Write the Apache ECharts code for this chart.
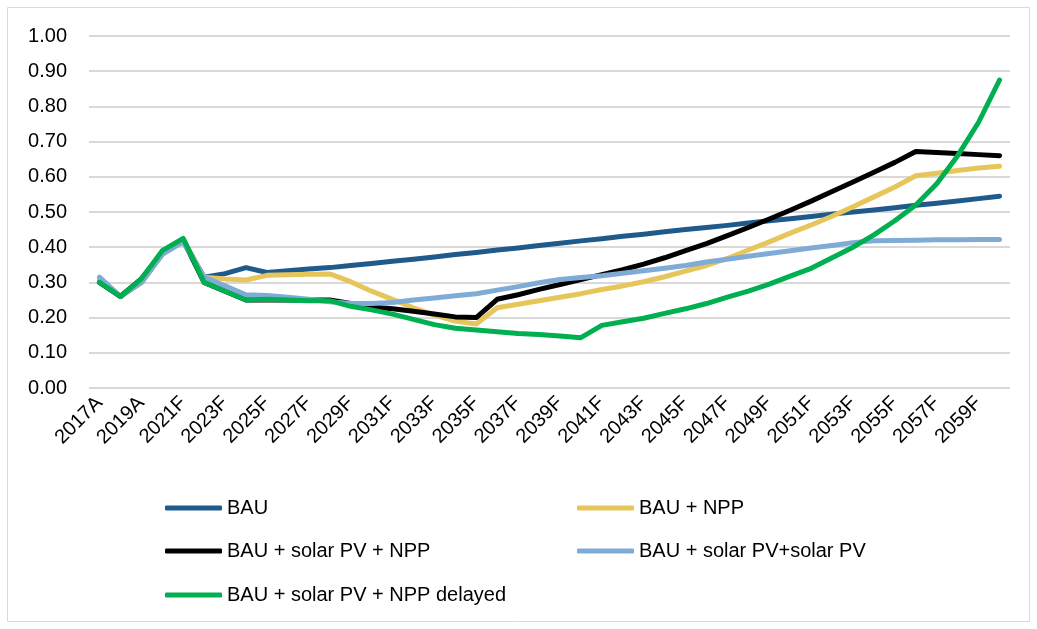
<!DOCTYPE html>
<html>
<head>
<meta charset="utf-8">
<script src="https://cdn.jsdelivr.net/npm/echarts@6/dist/echarts.min.js"></script>
<style>
  html, body { margin: 0; padding: 0; background: #fff; }
  #chart { width: 1037px; height: 629px; }
</style>
</head>
<body>
<div id="chart"></div>
<script>
const categories = ['2017A','2018A','2019A','2020A','2021F','2022F','2023F','2024F','2025F','2026F','2027F','2028F','2029F','2030F','2031F','2032F','2033F','2034F','2035F','2036F','2037F','2038F','2039F','2040F','2041F','2042F','2043F','2044F','2045F','2046F','2047F','2048F','2049F','2050F','2051F','2052F','2053F','2054F','2055F','2056F','2057F','2058F','2059F','2060F'];

const bau = [0.31,0.26,0.30,0.38,0.42,0.315,0.325,0.342,0.328,0.333,0.338,0.342,0.348,0.354,0.36,0.366,0.372,0.379,0.385,0.392,0.398,0.405,0.411,0.418,0.424,0.431,0.437,0.444,0.45,0.456,0.462,0.469,0.475,0.481,0.487,0.494,0.50,0.506,0.512,0.519,0.525,0.531,0.538,0.545];

const bauNpp = [0.31,0.26,0.30,0.38,0.42,0.315,0.31,0.307,0.32,0.322,0.323,0.324,0.302,0.275,0.252,0.228,0.207,0.19,0.182,0.228,0.238,0.248,0.258,0.268,0.28,0.29,0.302,0.316,0.332,0.348,0.368,0.392,0.415,0.44,0.463,0.488,0.515,0.543,0.571,0.603,0.61,0.618,0.625,0.63];

const bauPvNpp = [0.30,0.26,0.31,0.385,0.42,0.30,0.275,0.25,0.25,0.25,0.25,0.25,0.24,0.23,0.225,0.218,0.21,0.202,0.20,0.252,0.265,0.28,0.294,0.308,0.322,0.336,0.352,0.37,0.39,0.41,0.433,0.456,0.48,0.505,0.531,0.558,0.585,0.613,0.641,0.672,0.669,0.666,0.663,0.66];

const bauPvPv = [0.315,0.26,0.30,0.38,0.415,0.315,0.29,0.265,0.263,0.258,0.252,0.245,0.24,0.24,0.243,0.25,0.256,0.262,0.268,0.278,0.288,0.299,0.308,0.314,0.319,0.326,0.333,0.34,0.348,0.358,0.366,0.374,0.382,0.39,0.398,0.405,0.413,0.418,0.419,0.42,0.421,0.421,0.422,0.422];

const bauPvNppDelayed = [0.30,0.26,0.31,0.39,0.425,0.30,0.275,0.25,0.252,0.25,0.248,0.248,0.232,0.222,0.21,0.195,0.18,0.17,0.165,0.16,0.155,0.152,0.148,0.143,0.178,0.188,0.198,0.212,0.225,0.24,0.258,0.275,0.295,0.318,0.34,0.37,0.40,0.435,0.475,0.52,0.58,0.66,0.755,0.875];

const seriesNames = ['BAU','BAU + NPP','BAU + solar PV + NPP','BAU + solar PV+solar PV','BAU + solar PV + NPP delayed'];
const seriesData = [bau, bauNpp, bauPvNpp, bauPvPv, bauPvNppDelayed];
const seriesColors = ['#1f5a8c','#e6c65a','#000000','#7facd6','#00b050'];

const FONT = '"Liberation Sans", Arial, sans-serif';

const chart = echarts.init(document.getElementById('chart'), null, { renderer: 'canvas' });

const legendPos = [
  { left: 165, top: 498 },
  { left: 577, top: 498 },
  { left: 165, top: 541 },
  { left: 577, top: 541 },
  { left: 165, top: 585 }
];

const option = {
  animation: false,
  backgroundColor: '#ffffff',
  graphic: [{
    type: 'rect',
    shape: { x: 7.5, y: 7.5, width: 1022, height: 614 },
    style: { fill: 'none', stroke: '#d9d9d9', lineWidth: 1 },
    silent: true
  }],
  grid: { left: 89, right: 27, top: 36, bottom: 241, containLabel: false },
  legend: seriesNames.map((n, i) => ({
    data: [n],
    left: legendPos[i].left,
    top: legendPos[i].top,
    padding: 0,
    icon: 'roundRect',
    itemWidth: 57,
    itemHeight: 5,
    selectedMode: false,
    textStyle: { fontSize: 20, fontFamily: FONT, color: '#000' }
  })),
  xAxis: {
    type: 'category',
    data: categories,
    boundaryGap: true,
    axisLine: { show: false },
    axisTick: { show: false },
    axisLabel: {
      interval: 1,
      rotate: 45,
      margin: 12,
      fontSize: 20,
      fontFamily: FONT,
      color: '#000'
    }
  },
  yAxis: {
    type: 'value',
    min: 0,
    max: 1,
    interval: 0.1,
    axisLine: { show: false },
    axisTick: { show: false },
    splitLine: { lineStyle: { color: '#d9d9d9', width: 2 } },
    axisLabel: {
      margin: 22,
      fontSize: 20,
      fontFamily: FONT,
      color: '#000',
      formatter: v => v.toFixed(2)
    }
  },
  series: seriesNames.map((n, i) => ({
    name: n,
    type: 'line',
    data: seriesData[i],
    showSymbol: false,
    symbol: 'none',
    smooth: false,
    color: seriesColors[i],
    lineStyle: { width: 5, color: seriesColors[i], cap: 'round', join: 'round' },
    z: 2 + i
  }))
};

chart.setOption(option);
</script>
</body>
</html>
